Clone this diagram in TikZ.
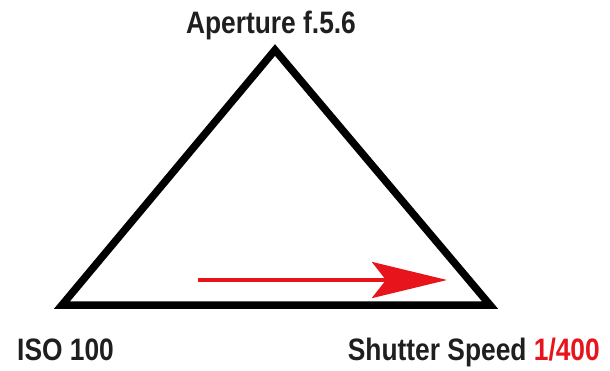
\documentclass[tikz,border=0pt]{standalone}
\usepackage{fontspec}
\usetikzlibrary{arrows.meta}
\newfontfamily\lblfont{Liberation Sans}[FakeStretch=0.85]
\definecolor{arrowred}{RGB}{232,20,28}
\begin{document}
\begin{tikzpicture}[x=1pt,y=-1pt,
  lbl/.style={inner sep=0pt, font=\lblfont\bfseries\fontsize{31}{33}\selectfont, text=black!88},
  tri/.style={line width=7.5pt, line join=miter, black},
  redarrow/.style={line width=4pt, arrowred, -{Stealth[length=75pt, width=36pt, inset=14pt]}}]
\useasboundingbox (0,0) rectangle (610,370);
\coordinate (top) at (275,50);
\coordinate (left) at (62,305);
\coordinate (right) at (490,305);
\draw[tri] (top) -- (left) -- (right) -- cycle;
\coordinate (a1) at (198,280);
\coordinate (a2) at (447,280);
\draw[redarrow] (a1) -- (a2);
\node[lbl, anchor=base] (ap) at (271,33) {Aperture f.5.6};
\node[lbl, anchor=base west] (iso) at (17,360) {ISO 100};
\node[lbl, anchor=base east] (sh) at (600,360) {Shutter Speed \textcolor{arrowred}{1/400}};
\end{tikzpicture}
\end{document}
